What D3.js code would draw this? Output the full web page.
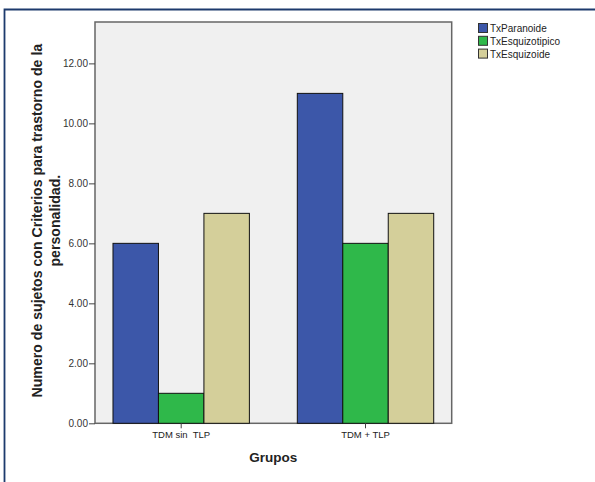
<!DOCTYPE html>
<html><head><meta charset="utf-8">
<script src="https://cdn.jsdelivr.net/npm/d3@7"></script>
<style>body{margin:0;background:#fff}svg{display:block}</style>
</head><body><svg id="c" width="595" height="482"></svg>
<script>
const categories = ["TDM sin  TLP", "TDM + TLP"];
const seriesNames = ["TxParanoide", "TxEsquizotipico", "TxEsquizoide"];
const TxParanoide = [6, 11];
const TxEsquizotipico = [1, 6];
const TxEsquizoide = [7, 7];
const yTicks = [0, 2, 4, 6, 8, 10, 12];
const colors = ["#3c57a9", "#2fb84a", "#d4cf9a"];

const seriesValues = [TxParanoide, TxEsquizotipico, TxEsquizoide];
const svg = d3.select("#c");
const L = 95, R = 451.7, T = 22, B = 423.3;

// frame
svg.append("path").attr("d", "M4.5,482 V9.5 H595").attr("fill", "none").attr("stroke", "#1d3a6d").attr("stroke-width", 1.8);

svg.append("rect").attr("x", L).attr("y", T).attr("width", R - L).attr("height", B - T)
  .attr("fill", "#f0f0f0").attr("stroke", "#666").attr("stroke-width", 1.5);

const y = d3.scaleLinear().domain([0, 13.38]).range([B, T]);
const x0 = d3.scaleBand().domain(categories).range([L, R]).paddingInner(0.26).paddingOuter(0.0976);
const x1 = d3.scaleBand().domain(seriesNames).range([0, x0.bandwidth()]);

categories.forEach((c, ci) => {
  seriesNames.forEach((s, si) => {
    const v = seriesValues[si][ci];
    svg.append("rect")
      .attr("x", x0(c) + x1(s)).attr("y", y(v))
      .attr("width", x1.bandwidth()).attr("height", B - y(v))
      .attr("fill", colors[si]).attr("stroke", "#111").attr("stroke-width", 1);
  });
});

const sans = "Liberation Sans, Arial, sans-serif";
// y axis
const ya = svg.append("g").attr("transform", `translate(${L},0)`)
  .call(d3.axisLeft(y).tickValues(yTicks).tickFormat(d3.format(".2f")).tickSize(6).tickPadding(1));
ya.select(".domain").remove();
ya.selectAll("line").attr("stroke", "#444");
ya.selectAll("text").attr("font-family", sans).attr("font-size", 10).attr("fill", "#333");

// x axis
const xa = svg.append("g").attr("transform", `translate(0,${B})`)
  .call(d3.axisBottom(x0).tickSize(5).tickPadding(3));
xa.select(".domain").remove();
xa.selectAll("line").attr("stroke", "#444");
xa.selectAll("text").attr("font-family", sans).attr("font-size", 9.5).attr("fill", "#222")
  .style("white-space", "pre").attr("xml:space", "preserve");

// titles
svg.append("text").attr("x", (L + R) / 2).attr("y", 462).attr("text-anchor", "middle")
  .attr("font-family", sans).attr("font-weight", "bold").attr("font-size", 13.5).attr("fill", "#222")
  .text("Grupos");

const yt = svg.append("text").attr("transform", `translate(42,${(T + B) / 2 - 2}) rotate(-90)`)
  .attr("text-anchor", "middle").attr("font-family", sans).attr("font-weight", "bold")
  .attr("font-size", 13).attr("fill", "#222");
const t1 = yt.append("tspan").attr("x", 0).attr("y", 0).text("Numero de sujetos con Criterios para trastorno de la");
yt.append("tspan").attr("x", 0).attr("y", 17.5).text("personalidad.");
const len = t1.node().getComputedTextLength();
yt.attr("font-size", 13 * 354 / len);

// legend
const lg = svg.append("g").attr("transform", "translate(478,23)");
seriesNames.forEach((s, i) => {
  lg.append("rect").attr("x", 0.5).attr("y", i * 12.8 + 0.5).attr("width", 9).attr("height", 9)
    .attr("fill", colors[i]).attr("stroke", "#333").attr("stroke-width", 1);
  lg.append("text").attr("x", 12).attr("y", i * 12.8 + 9)
    .attr("font-family", sans).attr("font-size", 10).attr("fill", "#222").text(s);
});
</script></body></html>
